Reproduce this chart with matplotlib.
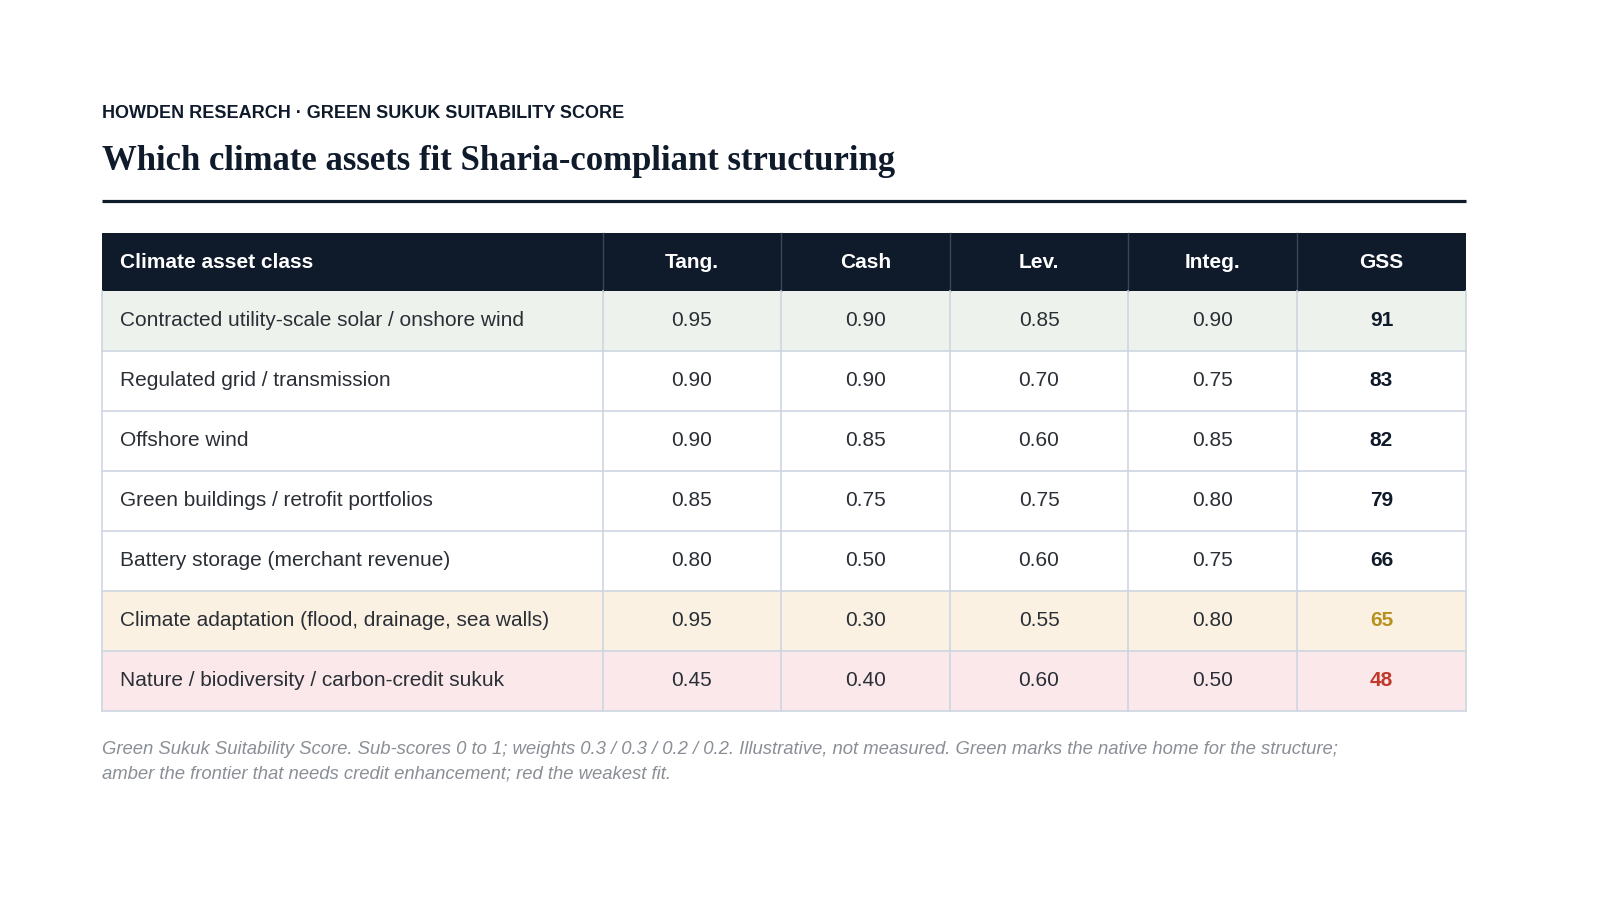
import matplotlib
matplotlib.use("Agg")
import matplotlib.pyplot as plt
from matplotlib.patches import Rectangle

columns = ["Climate asset class", "Tang.", "Cash", "Lev.", "Integ.", "GSS"]
assets = ["Contracted utility-scale solar / onshore wind", "Regulated grid / transmission",
          "Offshore wind", "Green buildings / retrofit portfolios",
          "Battery storage (merchant revenue)", "Climate adaptation (flood, drainage, sea walls)",
          "Nature / biodiversity / carbon-credit sukuk"]
tang = [0.95, 0.90, 0.90, 0.85, 0.80, 0.95, 0.45]
cash = [0.90, 0.90, 0.85, 0.75, 0.50, 0.30, 0.40]
lev = [0.85, 0.70, 0.60, 0.75, 0.60, 0.55, 0.60]
integ = [0.90, 0.75, 0.85, 0.80, 0.75, 0.80, 0.50]
gss = [91, 83, 82, 79, 66, 65, 48]
tier = ["green", "none", "none", "none", "none", "amber", "red"]

fill = {"green": "#edf3ec", "amber": "#fbf1e2", "red": "#fbe8ea", "none": "white"}
gcol = {"green": "#0f1a2b", "amber": "#b8901e", "red": "#c0392b", "none": "#0f1a2b"}
navy = "#0f1a2b"
grid = "#cdd6e0"
sans = "Liberation Sans"

fig = plt.figure(figsize=(16, 9.11), dpi=100)
ax = fig.add_axes([0, 0, 1, 1])
ax.set_xlim(0, 1600); ax.set_ylim(911, 0); ax.axis("off")

ax.text(102, 114, "HOWDEN RESEARCH · GREEN SUKUK SUITABILITY SCORE", fontsize=13, fontweight="bold",
        family=sans, color=navy, va="center")
ax.text(102, 162, "Which climate assets fit Sharia-compliant structuring", fontsize=25, fontweight="bold",
        family="Liberation Serif", color=navy, va="center")
ax.plot([102, 1466], [201, 201], color=navy, lw=2.3, solid_capstyle="butt")

xs = [102, 603, 781, 950, 1128, 1297, 1466]
top, hh, rh = 233, 58, 60
ax.add_patch(Rectangle((xs[0], top), xs[-1] - xs[0], hh, color=navy, lw=0))
for j, c in enumerate(columns):
    if j == 0:
        ax.text(xs[0] + 18, top + hh / 2, c, fontsize=15, fontweight="bold", family=sans, color="white", va="center")
    else:
        ax.text((xs[j] + xs[j + 1]) / 2, top + hh / 2, c, fontsize=15, fontweight="bold", family=sans,
                color="white", va="center", ha="center")
for j in range(1, 6):
    ax.plot([xs[j], xs[j]], [top, top + hh], color="#3a4658", lw=1)

for i, a in enumerate(assets):
    y0 = top + hh + i * rh
    yc = y0 + rh / 2
    ax.add_patch(Rectangle((xs[0], y0), xs[-1] - xs[0], rh, color=fill[tier[i]], lw=0))
    ax.text(xs[0] + 18, yc, a, fontsize=15, family=sans, color="#2a2f36", va="center")
    for j, v in enumerate([tang[i], cash[i], lev[i], integ[i]], start=1):
        ax.text((xs[j] + xs[j + 1]) / 2, yc, f"{v:.2f}", fontsize=15, family=sans, color="#2a2f36",
                va="center", ha="center")
    ax.text((xs[5] + xs[6]) / 2, yc, str(gss[i]), fontsize=15, fontweight="bold", family=sans,
            color=gcol[tier[i]], va="center", ha="center")
    ax.plot([xs[0], xs[-1]], [y0 + rh, y0 + rh], color=grid, lw=1.2)
bottom = top + hh + len(assets) * rh
for x in xs:
    ax.plot([x, x], [top + hh, bottom], color=grid, lw=1.2)

cap = ("Green Sukuk Suitability Score. Sub-scores 0 to 1; weights 0.3 / 0.3 / 0.2 / 0.2. Illustrative, not measured. "
       "Green marks the native home for the structure;\namber the frontier that needs credit enhancement; red the weakest fit.")
ax.text(102, 762, cap, fontsize=13.3, style="italic", family=sans, color="#8a8f96", va="center", linespacing=1.55)

fig.savefig("out.png", dpi=100)
